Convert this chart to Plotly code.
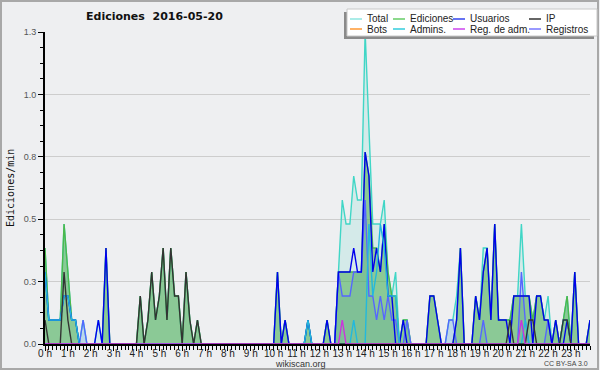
import plotly.graph_objects as go

# 10-minute bins, values in edits per minute (one row per hour)
total = [
    .4, .1, .1, .1, .1, .5,   .3, .1, .1, 0, .1, 0,   0, 0, .1, 0, .4, 0,   0, 0, 0, 0, 0, 0,
    0, .2, 0, .1, .3, .1,   .2, .4, .1, .4, .2, .2,   0, .3, .1, 0, .1, 0,   0, 0, 0, 0, 0, 0,
    0, 0, 0, 0, 0, 0,   0, 0, 0, 0, 0, 0,   0, .3, 0, .1, 0, 0,   0, 0, 0, .1, 0, 0,
    0, 0, .1, 0, 0, .3,   .6, .5, .5, .7, .6, .6,   1.3, .9, .5, .5, .5, .6,   .3, .2, .3, 0, .1, .1,
    0, 0, 0, 0, 0, .2,   .2, .1, 0, 0, .1, .1,   .2, .4, 0, 0, 0, .2,   .1, .4, .4, .1, .5, .1,
    .1, .1, .1, .2, .2, .5,   .2, .2, .1, .2, .2, .1,   .2, 0, .1, 0, .1, .2,   0, .3, 0, 0, 0, .1,
]
ediciones = [
    .4, .1, .1, .1, .1, .5,   .3, .1, .1, 0, 0, 0,   0, 0, 0, 0, .4, 0,   0, 0, 0, 0, 0, 0,
    0, .2, 0, .1, .3, .1,   .2, .4, .1, .4, .2, .2,   0, .3, .1, 0, .1, 0,   0, 0, 0, 0, 0, 0,
    0, 0, 0, 0, 0, 0,   0, 0, 0, 0, 0, 0,   0, .3, 0, .1, 0, 0,   0, 0, 0, .1, 0, 0,
    0, 0, .1, 0, 0, .3,   .3, .3, .3, .3, .3, .3,   .8, .7, .4, .4, .3, .5,   .3, .2, .2, 0, .1, .1,
    0, 0, 0, 0, 0, .2,   .2, .1, 0, 0, 0, 0,   .1, .4, 0, 0, 0, .2,   .1, .3, .4, .1, .5, .1,
    .1, .1, .1, .2, .2, .2,   .2, .2, .1, .2, .2, .1,   .1, 0, .1, 0, .1, .2,   0, .3, 0, 0, 0, .1,
]
usuarios = [
    .3, .1, .1, .1, .1, .2,   .2, .1, .1, 0, 0, 0,   0, 0, .1, 0, .4, 0,   0, 0, 0, 0, 0, 0,
    0, 0, 0, 0, 0, 0,   0, 0, 0, 0, 0, 0,   0, 0, 0, 0, 0, 0,   0, 0, 0, 0, 0, 0,
    0, 0, 0, 0, 0, 0,   0, 0, 0, 0, 0, 0,   0, .3, 0, .1, 0, 0,   0, 0, 0, .1, 0, 0,
    0, 0, .1, 0, 0, .3,   .3, .3, .3, .4, .3, .3,   .8, .7, .3, .4, .3, .5,   .2, .2, 0, 0, .1, 0,
    0, 0, 0, 0, 0, .2,   .2, .1, 0, 0, 0, 0,   .1, .4, 0, 0, 0, .2,   .1, .3, .4, .1, .5, .1,
    .1, .1, 0, .2, .2, .2,   .2, .2, 0, .2, .2, .1,   .1, 0, .1, 0, 0, .1,   0, .3, 0, 0, 0, .1,
]
ip = [
    .1, 0, 0, 0, 0, .3,   .1, 0, 0, 0, 0, 0,   0, 0, 0, 0, 0, 0,   0, 0, 0, 0, 0, 0,
    0, .2, 0, .1, .3, .1,   .2, .4, .1, .4, .2, .2,   0, .3, .1, 0, .1, 0,   0, 0, 0, 0, 0, 0,
    0, 0, 0, 0, 0, 0,   0, 0, 0, 0, 0, 0,   0, 0, 0, 0, 0, 0,   0, 0, 0, 0, 0, 0,
    0, 0, 0, 0, 0, 0,   0, 0, 0, 0, 0, 0,   0, 0, 0, 0, 0, 0,   0, 0, 0, 0, 0, 0,
    0, 0, 0, 0, 0, 0,   0, 0, 0, 0, 0, 0,   0, 0, 0, 0, 0, 0,   0, 0, 0, 0, 0, 0,
    0, 0, .1, 0, 0, 0,   0, .1, .1, 0, 0, 0,   0, 0, 0, 0, .1, .1,   0, 0, 0, 0, 0, 0,
]
bots = [0] * 144
admins = [
    .3, .1, .1, .1, .1, .2,   .2, .1, .1, 0, 0, 0,   0, 0, 0, 0, 0, 0,   0, 0, 0, 0, 0, 0,
    0, 0, 0, 0, 0, 0,   0, 0, 0, 0, 0, 0,   0, 0, 0, 0, 0, 0,   0, 0, 0, 0, 0, 0,
    0, 0, 0, 0, 0, 0,   0, 0, 0, 0, 0, 0,   0, 0, 0, 0, 0, 0,   0, 0, 0, .1, 0, 0,
    0, 0, 0, 0, 0, 0,   0, 0, 0, .1, 0, 0,   0, .5, .2, .3, .5, .4,   .2, .2, .2, 0, 0, 0,
    0, 0, 0, 0, 0, 0,   0, 0, 0, 0, 0, 0,   0, 0, 0, 0, 0, 0,   0, 0, 0, 0, 0, 0,
    0, 0, 0, 0, 0, 0,   .1, 0, 0, 0, 0, 0,   0, 0, 0, 0, .1, .1,   0, 0, 0, 0, 0, 0,
]
reg_adm = [
    0, 0, 0, 0, 0, 0,   0, 0, 0, 0, 0, 0,   0, 0, 0, 0, 0, 0,   0, 0, 0, 0, 0, 0,
    0, 0, 0, 0, 0, 0,   0, 0, 0, 0, 0, 0,   0, 0, 0, 0, 0, 0,   0, 0, 0, 0, 0, 0,
    0, 0, 0, 0, 0, 0,   0, 0, 0, 0, 0, 0,   0, 0, 0, 0, 0, 0,   0, 0, 0, 0, 0, 0,
    0, 0, 0, 0, 0, 0,   .1, 0, 0, 0, 0, 0,   0, 0, 0, 0, 0, 0,   0, 0, 0, 0, 0, 0,
    0, 0, 0, 0, 0, 0,   0, 0, 0, 0, 0, 0,   0, 0, 0, 0, 0, 0,   0, 0, 0, 0, 0, 0,
    0, 0, 0, 0, 0, .1,   0, 0, 0, 0, 0, 0,   0, 0, 0, 0, 0, 0,   0, 0, 0, 0, 0, 0,
]
registros = [
    0, 0, 0, 0, 0, 0,   0, 0, 0, 0, .1, 0,   0, 0, 0, 0, 0, 0,   0, 0, 0, 0, 0, 0,
    0, 0, 0, 0, 0, 0,   0, 0, 0, 0, 0, 0,   0, 0, 0, 0, 0, 0,   0, 0, 0, 0, 0, 0,
    0, 0, 0, 0, 0, 0,   0, 0, 0, 0, 0, 0,   0, 0, 0, 0, 0, 0,   0, 0, 0, 0, 0, 0,
    0, 0, 0, 0, 0, .3,   .2, .2, .2, .3, .3, .3,   .6, .2, .2, .1, .2, .1,   .2, .1, .1, 0, 0, .1,
    0, 0, 0, 0, 0, 0,   0, 0, 0, 0, .1, .1,   0, 0, 0, 0, 0, 0,   0, .1, 0, 0, 0, 0,
    0, 0, 0, 0, 0, .3,   .1, 0, 0, 0, 0, 0,   .1, 0, 0, 0, 0, 0,   0, 0, 0, 0, 0, 0,
]

hours = [m / 60 for m in range(0, 1440, 10)]
hour_ticks = list(range(24))
hour_labels = [f"{h} h" for h in hour_ticks]
y_ticks = [0, 0.26, 0.52, 0.78, 1.04, 1.3]
y_labels = ["0.0", "0.3", "0.5", "0.8", "1.0", "1.3"]

series = [
    ("Total", total, "#8fe6e0", "#40d6c6"),
    ("Ediciones", ediciones, "#66cc66", "#4cb84c"),
    ("Usuarios", usuarios, "#3344ee", "#0000ee"),
    ("IP", ip, "#333333", "#333333"),
    ("Bots", bots, "#ff9933", "#ff9933"),
    ("Admins.", admins, "#33ccdd", "#22b8dd"),
    ("Reg. de adm.", reg_adm, "#cc44ee", "#cc33dd"),
    ("Registros", registros, "#7777ff", "#5566ff"),
]

fig = go.Figure()
# filled areas first
fig.add_trace(go.Scatter(x=hours, y=total, mode="lines", line=dict(width=0),
                         fill="tozeroy", fillcolor="rgba(80,210,195,0.16)",
                         showlegend=False, hoverinfo="skip"))
fig.add_trace(go.Scatter(x=hours, y=registros, mode="lines", line=dict(width=0),
                         fill="tozeroy", fillcolor="rgba(90,140,230,0.18)",
                         showlegend=False, hoverinfo="skip"))
fig.add_trace(go.Scatter(x=hours, y=ediciones, mode="lines", line=dict(width=0),
                         fill="tozeroy", fillcolor="rgba(60,165,60,0.48)",
                         showlegend=False, hoverinfo="skip"))
# lines (Bots is all zero: it lies under the axis line)
draw_order = ["Total", "Ediciones", "Registros", "Usuarios", "Admins.", "IP", "Reg. de adm."]
lookup = {s[0]: s for s in series}
for name in draw_order:
    _, vals, _, lc = lookup[name]
    fig.add_trace(go.Scatter(x=hours, y=vals, mode="lines", name=name,
                             line=dict(color=lc, width=1.4), showlegend=False))

L, R, T, B = 45, 10, 32, 26
W, H = 600, 370
pw, ph = W - L - R, H - T - B


def px(x):
    return (x - L) / pw


def py(y):
    return (H - B - y) / ph


shapes = []
annotations = []
# outer frame
shapes.append(dict(type="rect", xref="paper", yref="paper", x0=px(1), x1=px(598), y0=py(369), y1=py(1),
                   line=dict(color="#a8a8a8", width=2), layer="above"))
# legend box with shadow
shapes.append(dict(type="rect", xref="paper", yref="paper", x0=px(344), x1=px(594), y0=py(39), y1=py(12),
                   line=dict(width=0), fillcolor="#8a8a8a", layer="above"))
shapes.append(dict(type="rect", xref="paper", yref="paper", x0=px(347), x1=px(597), y0=py(36), y1=py(9),
                   line=dict(color="#c8c8c8", width=1), fillcolor="white", layer="above"))
cols = [350, 393, 453, 529]
rows = [19, 29]
legend_font = dict(family="Liberation Sans", size=10, color="#222")
for k, (name, _, lgc, _) in enumerate(series):
    cx = cols[k % 4]
    ry = rows[k // 4]
    shapes.append(dict(type="line", xref="paper", yref="paper", x0=px(cx), x1=px(cx + 12),
                       y0=py(ry), y1=py(ry), line=dict(color=lgc, width=1.5), layer="above"))
    annotations.append(dict(xref="paper", yref="paper", x=px(cx + 15), y=py(ry), text=name,
                            showarrow=False, xanchor="left", yanchor="middle", font=legend_font))

annotations.append(dict(xref="paper", yref="paper", x=px(154), y=py(17),
                        text="<b>Ediciones&nbsp; 2016-05-20</b>", showarrow=False,
                        xanchor="center", yanchor="middle",
                        font=dict(family="DejaVu Sans", size=11, color="#111")))
annotations.append(dict(xref="paper", yref="paper", x=px(10), y=py(188), text="Ediciones/min",
                        textangle=-90, showarrow=False, xanchor="center", yanchor="middle",
                        font=dict(family="DejaVu Sans Mono", size=10, color="#111")))
annotations.append(dict(xref="paper", yref="paper", x=px(300), y=py(363.5), text="wikiscan.org",
                        showarrow=False, xanchor="center", yanchor="middle",
                        font=dict(family="Liberation Sans", size=9, color="#333")))
annotations.append(dict(xref="paper", yref="paper", x=px(590), y=py(363.5), text="CC BY-SA 3.0",
                        showarrow=False, xanchor="right", yanchor="middle",
                        font=dict(family="Liberation Sans", size=7, color="#444")))

fig.update_layout(
    width=W, height=H,
    margin=dict(l=L, r=R, t=T, b=B, pad=0, autoexpand=False),
    paper_bgcolor="#eeeff1", plot_bgcolor="#eeeff1",
    showlegend=False,
    shapes=shapes, annotations=annotations,
    xaxis=dict(range=[0, 143 / 6], tickvals=hour_ticks, ticktext=hour_labels, automargin=False,
               showgrid=False, zeroline=False, showline=True, linecolor="black", linewidth=2,
               ticks="outside", ticklen=5, tickcolor="black", tickwidth=1, layer="above traces",
               ticklabelstandoff=-6,
               tickfont=dict(family="Liberation Sans", size=10, color="#222"),
               minor=dict(dtick=1 / 6, tick0=0, ticks="outside", ticklen=4, tickcolor="black", tickwidth=1)),
    yaxis=dict(range=[0, 1.3], tickvals=y_ticks, ticktext=y_labels, automargin=False,
               showgrid=True, gridcolor="#cdcdcd", gridwidth=1, zeroline=False,
               showline=True, linecolor="black", linewidth=2, layer="above traces",
               ticks="outside", ticklen=5, tickcolor="black", tickwidth=1,
               tickfont=dict(family="Liberation Sans", size=9, color="#555"),
               minor=dict(tickvals=[0.065, 0.13, 0.195, 0.325, 0.39, 0.455, 0.585, 0.65, 0.715,
                                    0.845, 0.91, 0.975, 1.105, 1.17, 1.235],
                          ticks="outside", ticklen=3, tickcolor="black", tickwidth=1, showgrid=False)),
)

fig.write_html("out.html", config={"displayModeBar": False},
               post_script="document.body.style.margin='0';")
